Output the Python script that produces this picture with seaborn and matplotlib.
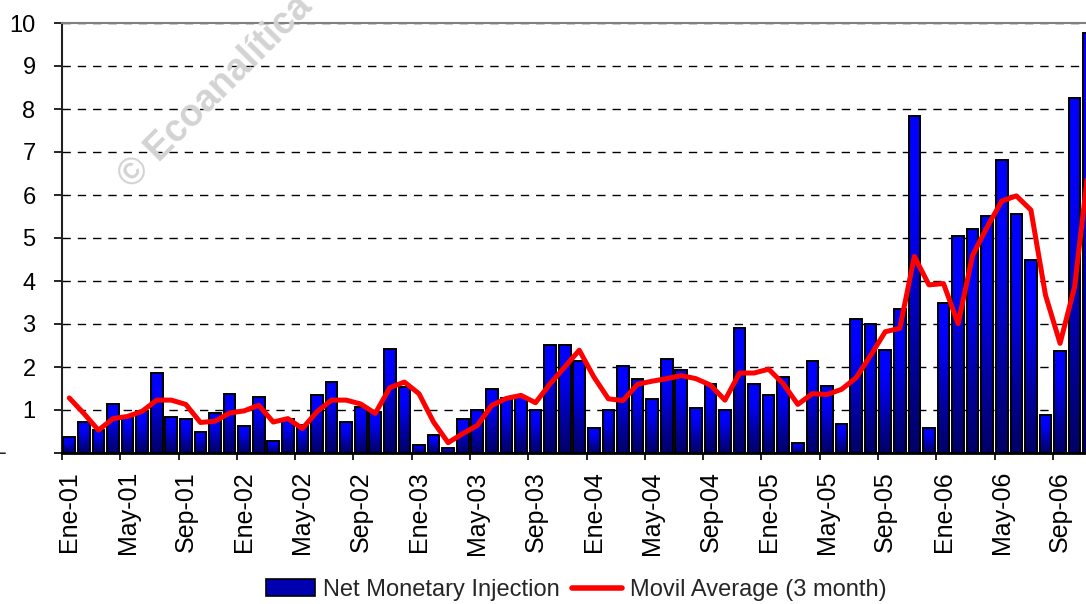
import numpy as np
import pandas as pd
import matplotlib.pyplot as plt
import seaborn as sns
from matplotlib.colors import LinearSegmentedColormap
from matplotlib.lines import Line2D
from matplotlib.patches import Patch

# monthly categories (Spanish month abbreviations)
months = ['Ene', 'Feb', 'Mar', 'Abr', 'May', 'Jun', 'Jul', 'Ago', 'Sep', 'Oct', 'Nov', 'Dic']
years = ['01', '02', '03', '04', '05', '06']

# Net Monetary Injection
inj_2001 = [0.37, 0.71, 0.53, 1.13, 0.84, 0.97, 1.85, 0.84, 0.80, 0.50, 0.92, 1.38]
inj_2002 = [0.63, 1.30, 0.28, 0.80, 0.65, 1.34, 1.64, 0.71, 1.06, 0.95, 2.43, 1.54]
inj_2003 = [0.19, 0.41, 0.12, 0.80, 1.01, 1.48, 1.27, 1.30, 0.99, 2.52, 2.52, 2.13]
inj_2004 = [0.58, 1.01, 2.02, 1.72, 1.25, 2.18, 1.93, 1.05, 1.60, 1.01, 2.90, 1.60]
inj_2005 = [1.34, 1.77, 0.24, 2.14, 1.55, 0.67, 3.11, 2.99, 2.39, 3.36, 7.83, 0.58]
inj_2006 = [3.49, 5.05, 5.21, 5.51, 6.81, 5.55, 4.50, 0.88, 2.37, 8.25, 9.77]

# Movil Average (3 month)
ma_2001 = [1.28, 0.92, 0.53, 0.80, 0.85, 0.97, 1.23, 1.23, 1.13, 0.71, 0.74, 0.93]
ma_2002 = [0.98, 1.11, 0.72, 0.80, 0.57, 0.96, 1.23, 1.23, 1.14, 0.92, 1.52, 1.65]
ma_2003 = [1.38, 0.72, 0.24, 0.45, 0.64, 1.11, 1.27, 1.34, 1.17, 1.61, 2.00, 2.39]
ma_2004 = [1.77, 1.26, 1.22, 1.60, 1.67, 1.73, 1.80, 1.73, 1.58, 1.23, 1.86, 1.86]
ma_2005 = [1.95, 1.61, 1.13, 1.38, 1.36, 1.48, 1.75, 2.27, 2.82, 2.90, 4.57, 3.91]
ma_2006 = [3.94, 3.01, 4.60, 5.26, 5.86, 5.98, 5.65, 3.67, 2.55, 3.87, 6.80]

injection = inj_2001 + inj_2002 + inj_2003 + inj_2004 + inj_2005 + inj_2006
movil = ma_2001 + ma_2002 + ma_2003 + ma_2004 + ma_2005 + ma_2006
labels = [f'{m}-{y}' for y in years for m in months][:len(injection)]

data = pd.DataFrame({'Mes': labels, 'Injection': injection, 'Movil': movil})

sns.set_theme(style='white')
plt.rcParams['font.family'] = ['Liberation Sans', 'DejaVu Sans']

fig = plt.figure(figsize=(10.86, 6.04), dpi=100)
# plot area runs past the right edge, like the cropped original
ax = fig.add_axes([62 / 1086, 151 / 604, 1034.5 / 1086, 430 / 604])

sns.barplot(data=data, x='Mes', y='Injection', ax=ax, color='#0000cc',
            width=0.8, edgecolor='black', linewidth=1.4, zorder=3)

# vertical blue gradient inside each bar (dark at the base, bright on top)
cmap = LinearSegmentedColormap.from_list(
    'inj', [(0.0, '#000066'), (0.3, '#00009c'), (0.6, '#0000e2'),
            (0.8, '#0000ff'), (1.0, '#0000ff')])
grad = np.linspace(0, 1, 256).reshape(-1, 1)
for bar in list(ax.patches):
    x0, y0 = bar.get_x(), bar.get_y()
    w, h = bar.get_width(), bar.get_height()
    img = ax.imshow(grad, extent=[x0, x0 + w, y0, y0 + h], origin='lower',
                    cmap=cmap, aspect='auto', zorder=2.9)
    img.set_clip_path(bar)
    bar.set_facecolor('none')

sns.lineplot(data=data, x='Mes', y='Movil', ax=ax, color='#ff0000',
             linewidth=3.6, sort=False, zorder=4)

ax.set_xlim(-0.5, len(labels) - 0.5)
ax.set_ylim(0, 10)
ax.set_xlabel('')
ax.set_ylabel('')

ax.set_xticks(range(0, len(labels), 4))
ax.set_xticklabels(labels[::4], rotation=90, fontsize=18)
ax.set_xticks(np.arange(0, len(labels), 4) - 0.5, minor=True)
ax.tick_params(axis='x', which='major', length=0, pad=13, colors='black')
ax.tick_params(axis='x', which='minor', length=5, width=1.2, color='black',
               direction='out', bottom=True)

ax.set_yticks(range(0, 11))
ax.set_yticklabels([''] + [str(v) for v in range(1, 11)], fontsize=17)
ax.tick_params(axis='y', length=6, width=1.2, color='black', pad=13,
               direction='out', left=True, labelcolor='black')
ax.annotate('-', xy=(0, 0), xycoords=('axes fraction', 'data'),
            xytext=(-42.5, 0), textcoords='offset points',
            ha='center', va='center', fontsize=17)

ax.yaxis.grid(True, color='black', linestyle=(0, (6, 5)), linewidth=1.0)
ax.set_axisbelow(True)

ax.spines['left'].set_color('#222222')
ax.spines['left'].set_linewidth(1.5)
ax.spines['bottom'].set_color('black')
ax.spines['bottom'].set_linewidth(2)
ax.spines['top'].set_color('#808080')
ax.spines['top'].set_linewidth(1.5)
ax.spines['right'].set_visible(False)

# watermark
fig.text(216 / 1086, 1 - 92 / 604, '© Ecoanalítica', rotation=45,
         fontsize=27, fontweight='bold', color='#d3d3d3',
         ha='center', va='center', rotation_mode='anchor')

handles = [Patch(facecolor='#0000b0', edgecolor='black', linewidth=1.2),
           Line2D([], [], color='#ff0000', linewidth=4)]
fig.legend(handles, ['Net Monetary Injection', 'Movil Average (3 month)'],
           loc='center', bbox_to_anchor=(576 / 1086, 14 / 604), ncol=2,
           frameon=False, fontsize=17, handlelength=2.1, handleheight=0.7,
           handletextpad=0.35, columnspacing=0.5)

fig.savefig('out.png', dpi=100)
